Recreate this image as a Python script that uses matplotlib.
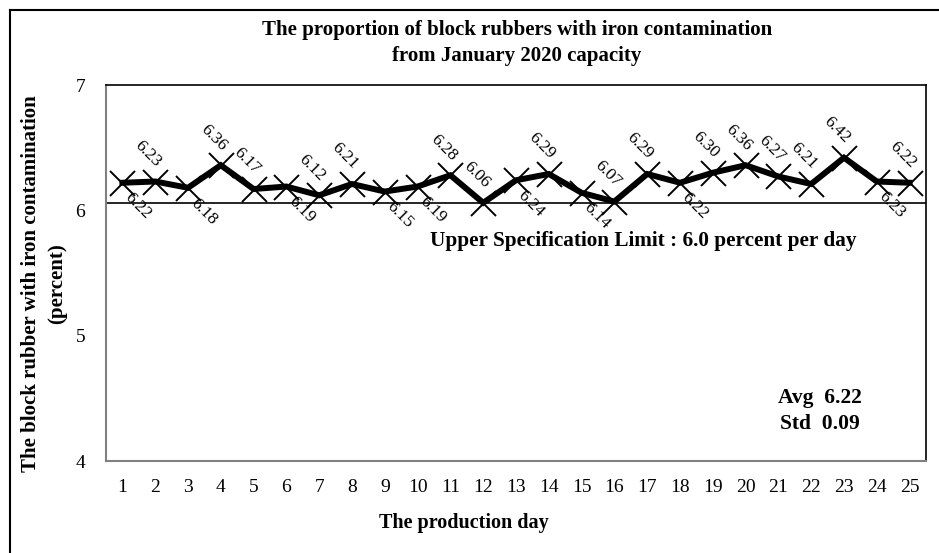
import matplotlib
matplotlib.use("Agg")
import matplotlib.pyplot as plt
from matplotlib.lines import Line2D

plt.rcParams['font.family'] = ['Liberation Serif', 'DejaVu Serif']

days = list(range(1, 26))
values = [6.22, 6.23, 6.18, 6.36, 6.17, 6.19, 6.12, 6.21, 6.15, 6.19,
          6.28, 6.06, 6.24, 6.29, 6.14, 6.07, 6.29, 6.22, 6.30, 6.36,
          6.27, 6.21, 6.42, 6.23, 6.22]
label_pos = ['below', 'above', 'below', 'above', 'above', 'below', 'above', 'above', 'below', 'below',
             'above', 'above', 'below', 'above', 'below', 'above', 'above', 'below', 'above', 'above',
             'above', 'above', 'above', 'below', 'above']
usl_line = 6.06
y_ticks = [4, 5, 6, 7]
title = "The proportion of block rubbers with iron contamination\nfrom January 2020 capacity"
ylabel = "The block rubber with iron contamination\n(percent)"
xlabel = "The production day"
usl_text = "Upper Specification Limit : 6.0 percent per day"
stats_text = "Avg  6.22\nStd  0.09"

W, H = 939, 553
fig = plt.figure(figsize=(W / 100, H / 100), dpi=100)

def fx(px):
    return px / W

def fy(py):
    return 1 - py / H

ax = fig.add_axes([fx(106), fy(461), fx(926) - fx(106), fy(85) - fy(461)])

ax.plot(days, values, color='black', linewidth=4.3, marker='x', markersize=18,
        markeredgewidth=1.4, markeredgecolor='black', zorder=3, solid_joinstyle='miter')
ax.axhline(usl_line, color='black', linewidth=1.2, zorder=2)

for d, v, p in zip(days, values, label_pos):
    if p == 'above':
        off = (-5, 20)
    else:
        off = (11, -17)
    ax.annotate(f"{v:.2f}", (d, v), xytext=off, textcoords='offset points',
                ha='center', va='center', rotation=-45, rotation_mode='anchor',
                fontsize=12.5, zorder=4)

ax.set_xlim(0.5, 25.5)
ax.set_ylim(4, 7)
ax.set_xticks(days)
ax.set_yticks(y_ticks)
ax.tick_params(axis='both', length=0, labelsize=14)
ax.tick_params(axis='x', pad=13)
ax.tick_params(axis='y', pad=15)

for s in ['top', 'right']:
    ax.spines[s].set_color('black')
    ax.spines[s].set_linewidth(1.2)
for s in ['left', 'bottom']:
    ax.spines[s].set_color('#808080')
    ax.spines[s].set_linewidth(1.5)

fig.text(fx(517), fy(43), title, ha='center', va='center', fontsize=15,
         fontweight='bold', linespacing=1.45)
fig.text(fx(44), fy(284), ylabel, ha='center', va='center', rotation=90,
         fontsize=15, fontweight='bold', linespacing=1.4, multialignment='center')
fig.text(fx(464), fy(523), xlabel, ha='center', va='center', fontsize=14.5, fontweight='bold')
ax.text(0.655, 0.585, usl_text, transform=ax.transAxes, ha='center', va='center',
        fontsize=15.3, fontweight='bold')
fig.text(fx(820), fy(411), stats_text, ha='center', va='center', fontsize=15.5,
         fontweight='bold', linespacing=1.35)

# outer chart border (left and top visible)
fig.add_artist(Line2D([fx(10), fx(10)], [fy(10), 0], transform=fig.transFigure,
                      color='black', linewidth=1.5))
fig.add_artist(Line2D([fx(10), 1], [fy(10), fy(10)], transform=fig.transFigure,
                      color='black', linewidth=1.5))

fig.savefig("out.png", dpi=100)
